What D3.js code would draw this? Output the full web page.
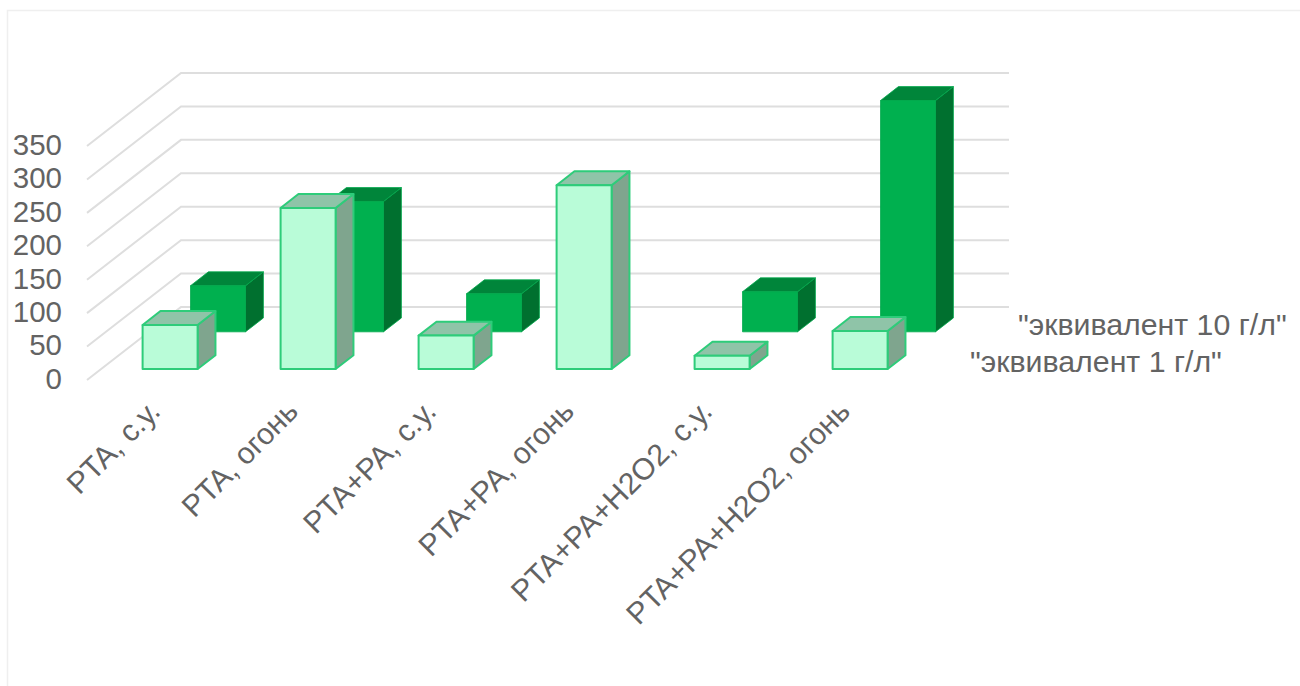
<!DOCTYPE html>
<html lang="ru">
<head>
<meta charset="utf-8">
<title>PTA</title>
<script src="https://cdn.jsdelivr.net/npm/d3@7/dist/d3.min.js"></script>
<style>
  html, body { margin: 0; padding: 0; background: #fff; }
  svg { display: block; }
  text { font-family: "Liberation Sans", Arial, sans-serif; fill: #636363; }
</style>
</head>
<body>
<svg id="chart" width="1300" height="686"></svg>
<script>
// Categories, series and axis ticks
const categories = ["PTA, с.у.", "PTA, огонь", "PTA+PA, с.у.", "PTA+PA, огонь", "PTA+PA+H2O2, с.у.", "PTA+PA+H2O2, огонь"];
const seriesNames = ["\"эквивалент 10 г/л\"", "\"эквивалент 1 г/л\""];
const values10 = [69, 195, 57, null, 60, 346];
const values1 = [66, 241, 50, 275, 20, 57];
const yTicks = [0, 50, 100, 150, 200, 250, 300, 350];

const svg = d3.select("#chart");

// Oblique projection: the floor recedes from (0, 0) to (94, -73) at full depth.
const depthX = d3.scaleLinear().domain([0, 1]).range([0, 94]);
const depthY = d3.scaleLinear().domain([0, 1]).range([0, -73]);
const x = d3.scaleBand().domain(categories).range([87, 915]).paddingInner(83 / 138).paddingOuter(83 / 276);
const y = d3.scaleLinear().domain([0, 350]).range([380, 146]);
const project = (px, v, z) => [px + depthX(z), y(v) + depthY(z)];
const poly = pts => d3.line()(pts) + "Z";

// Page frame
svg.append("path").attr("d", "M7.5,686V10.5H1300").attr("fill", "none").attr("stroke", "#efefef").attr("stroke-width", 1.5);

// Walls: each tick runs along the side wall, then across the back wall
const grid = svg.append("g").attr("fill", "none").attr("stroke", "#dedede").attr("stroke-width", 2);
yTicks.forEach(t => {
  grid.append("path").attr("d", d3.line()([project(87, t, 0), project(87, t, 1), project(915, t, 1)]));
});

// Tick labels on the value axis
svg.append("g").selectAll("text").data(yTicks).join("text")
  .attr("x", 62).attr("y", d => y(d) + 1)
  .attr("text-anchor", "end").attr("dominant-baseline", "middle")
  .attr("font-size", 29.5).text(d => d);

// Draws one row of boxes at the given depth range
function drawSeries(values, z0, z1, style) {
  const g = svg.append("g");
  categories.forEach((c, i) => {
    const v = values[i];
    if (v === null) return;
    const l = x(c), r = l + x.bandwidth();
    const side = [project(r, 0, z0), project(r, 0, z1), project(r, v, z1), project(r, v, z0)];
    const top = [project(l, v, z0), project(r, v, z0), project(r, v, z1), project(l, v, z1)];
    const front = [project(l, 0, z0), project(r, 0, z0), project(r, v, z0), project(l, v, z0)];
    [[side, style.side], [top, style.top], [front, style.front]].forEach(([pts, fill]) => {
      g.append("path").attr("d", poly(pts)).attr("fill", fill)
        .attr("stroke", style.stroke).attr("stroke-width", style.strokeWidth)
        .attr("stroke-linejoin", "round");
    });
  });
}

drawSeries(values10, 0.66, 0.85, { front: "#00b04f", side: "#00702f", top: "#00853a", stroke: "#00a84b", strokeWidth: 0.8 });
drawSeries(values1, 0.15, 0.34, { front: "#b9fcd8", side: "#7fa58e", top: "#8fc4a8", stroke: "#2ecc7a", strokeWidth: 2 });

// Category labels, rotated along the axis
svg.append("g").selectAll("text").data(categories).join("text")
  .attr("transform", c => `translate(${x(c) + x.bandwidth() / 2 + 6},${413}) rotate(-45)`)
  .attr("text-anchor", "end")
  .attr("font-size", 30.2).text(c => c);

// Series names at the foot of each row
const seriesDepths = [0.755, 0.245];
svg.append("g").selectAll("text").data(seriesNames).join("text")
  .attr("x", (d, i) => project(915, 0, seriesDepths[i])[0] + 32)
  .attr("y", (d, i) => project(915, 0, seriesDepths[i])[1] + 10)
  .attr("font-size", 30.3).text(d => d);
</script>
</body>
</html>
